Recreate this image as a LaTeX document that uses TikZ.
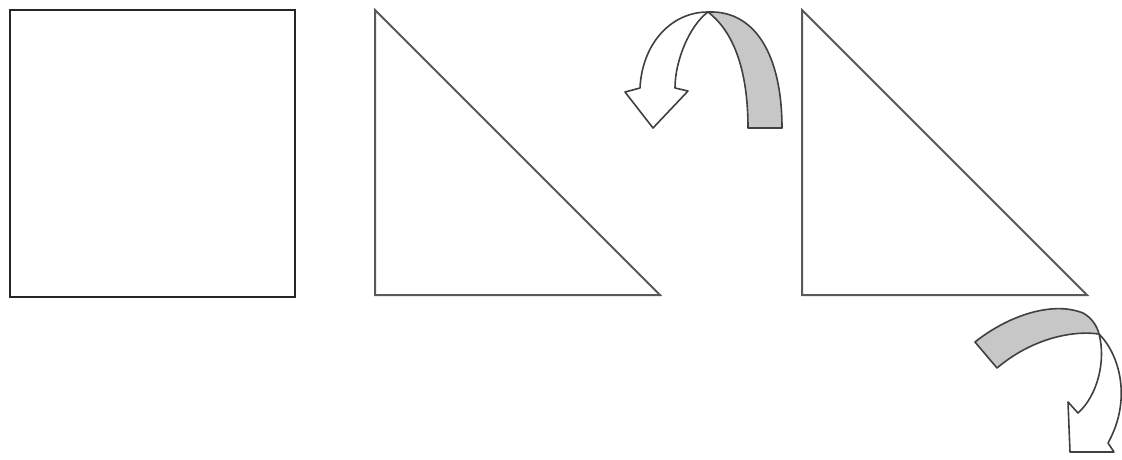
\documentclass[tikz,border=0pt]{standalone}
\begin{document}
\begin{tikzpicture}[x=1pt,y=-1pt,
  sq/.style={draw=black!85,line width=2.2pt},
  tri/.style={draw=black!65,line width=2pt,line join=miter},
  band/.style={draw=black!75,line width=1.6pt,line join=round},
  back/.style={band,fill=black!22},
  front/.style={band,fill=white}]
\useasboundingbox[fill=white] (0,0) rectangle (1122,459);
% square
\draw[sq] (10,10) rectangle (295,297);
% triangles
\draw[tri] (375,10) -- (375,295) -- (660,295) -- cycle;
\draw[tri] (802,10) -- (802,295) -- (1087,295) -- cycle;
% top arrow
\coordinate (F1) at (708,12);
\draw[front] (640,88) .. controls (642,45) and (670,12) .. (F1)
  .. controls (690,25) and (675,60) .. (675,88)
  -- (688,91) -- (653,128) -- (625,92) -- cycle;
\draw[back] (F1) .. controls (755,10) and (782,55) .. (782,128)
  -- (748,128) .. controls (748,80) and (738,35) .. (F1) -- cycle;
% bottom arrow
\coordinate (G) at (1099,334);
\draw[front] (G) .. controls (1120,355) and (1132,400) .. (1108,443)
  -- (1114,452) -- (1070,452) -- (1068,402) -- (1078,413)
  .. controls (1098,395) and (1106,360) .. (G) -- cycle;
\draw[back] (975,342) .. controls (1005,318) and (1050,300) .. (1083,313)
  .. controls (1092,318) and (1097,326) .. (G)
  .. controls (1070,330) and (1030,340) .. (997,368) -- cycle;
\end{tikzpicture}
\end{document}
